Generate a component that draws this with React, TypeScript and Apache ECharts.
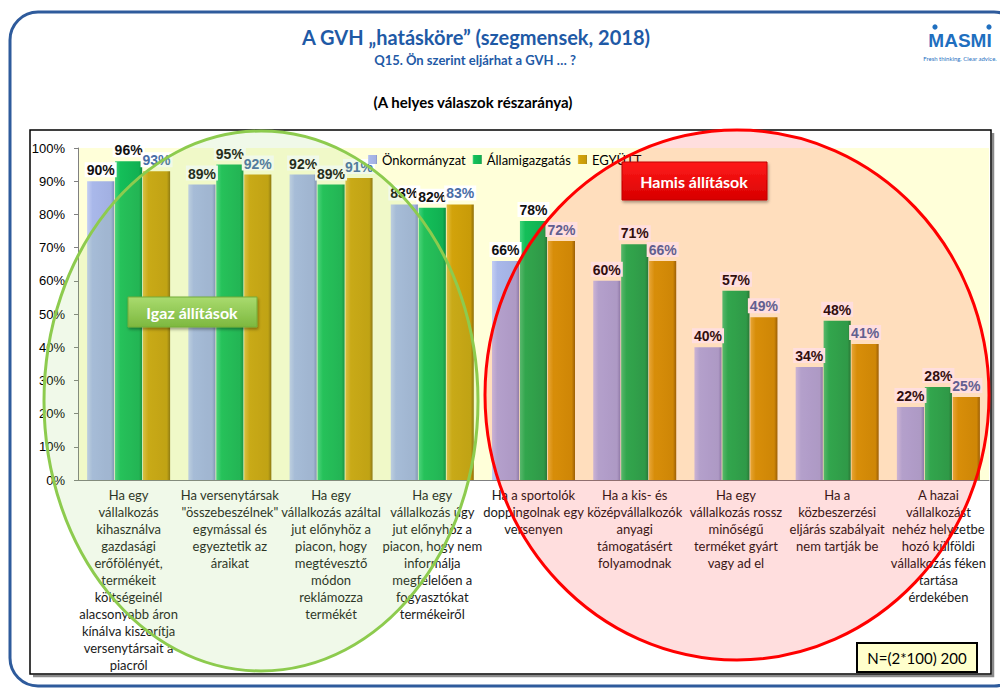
import React, { useEffect, useRef } from "react";
import * as echarts from "echarts";

const categories = [
  "Ha egy\nvállalkozás\nkihasználva\ngazdasági\nerőfölényét,\ntermékeit\nköltségeinél\nalacsonyabb áron\nkínálva kiszorítja\nversenytársait a\npiacról",
  "Ha versenytársak\n\"összebeszélnek\"\negymással és\negyeztetik az\náraikat",
  "Ha egy\nvállalkozás azáltal\njut előnyhöz a\npiacon, hogy\nmegtévesztő\nmódon\nreklámozza\ntermékét",
  "Ha egy\nvállalkozás úgy\njut előnyhöz a\npiacon, hogy nem\ninformálja\nmegfelelően a\nfogyasztókat\ntermékeiről",
  "Ha a sportolók\ndoppingolnak egy\nversenyen",
  "Ha a kis- és\nközépvállalkozók\nanyagi\ntámogatásért\nfolyamodnak",
  "Ha egy\nvállalkozás rossz\nminőségű\nterméket gyárt\nvagy ad el",
  "Ha a\nközbeszerzési\neljárás szabályait\nnem tartják be",
  "A hazai\nvállalkozást\nnehéz helyzetbe\nhozó külföldi\nvállalkozás féken\ntartása\nérdekében",
];

const seriesNames = ["Önkormányzat", "Államigazgatás", "EGYÜTT"];
const onkormanyzat = [90, 89, 92, 83, 66, 60, 40, 34, 22];
const allamigazgatas = [96, 95, 89, 82, 78, 71, 57, 48, 28];
const egyutt = [93, 92, 91, 83, 72, 66, 49, 41, 25];

const yMin = 0;
const yMax = 100;
const yInterval = 10;

const titleText = "A GVH „hatásköre” (szegmensek, 2018)";
const subtitleText = "Q15. Ön szerint eljárhat a GVH … ?";
const noteText = "(A helyes válaszok részaránya)";
const trueLabel = "Igaz állítások";
const falseLabel = "Hamis állítások";
const sampleText = "N=(2*100) 200";

const CAL = "Lato, 'Open Sans', sans-serif";
const ARIAL = "'Liberation Sans', Arial, sans-serif";

function barGrad(c0: string, c1: string, c2: string, c3: string) {
  return new echarts.graphic.LinearGradient(1, 0, 0, 0, [
    { offset: 0, color: c3 },
    { offset: 0.12, color: c2 },
    { offset: 0.8, color: c1 },
    { offset: 1, color: c0 },
  ]);
}

export default function App() {
  const ref = useRef<HTMLDivElement>(null);

  useEffect(() => {
    if (!ref.current) return;
    const chart = echarts.init(ref.current, null, { renderer: "svg" });

    const labelBase = {
      show: true,
      position: "top" as const,
      distance: 4,
      formatter: "{c}%",
      fontFamily: ARIAL,
      fontSize: 14,
      fontWeight: "bold" as const,
      backgroundColor: "#ffffff",
      padding: [1, 2, 0, 2],
    };

    const colors = [
      barGrad("#C4CEF3", "#A9B8EA", "#A2B0E2", "#7F8CC0"),
      barGrad("#40D37C", "#14BF59", "#11B052", "#0A8A3E"),
      barGrad("#E4BD3E", "#D2A30B", "#C89B08", "#8E6D05"),
    ];

    const option: any = {
      animation: false,
      grid: {
        left: 78,
        right: 11,
        top: 148,
        bottom: 208,
        show: true,
        backgroundColor: "#FFFFD9",
        borderWidth: 0,
      },
      legend: {
        left: 363,
        top: 148,
        itemWidth: 9,
        itemHeight: 9,
        itemGap: 7,
        icon: "rect",
        textStyle: { fontFamily: CAL, fontSize: 13, color: "#000" },
        data: seriesNames,
      },
      xAxis: {
        type: "category",
        data: categories,
        axisLine: { show: true, lineStyle: { color: "#808080" } },
        axisTick: { show: false },
        axisLabel: {
          interval: 0,
          margin: 6,
          fontFamily: CAL,
          fontSize: 13,
          lineHeight: 17,
          color: "#1a1a1a",
          align: "center",
        },
      },
      yAxis: {
        type: "value",
        min: yMin,
        max: yMax,
        interval: yInterval,
        axisLine: { show: true, lineStyle: { color: "#808080" } },
        axisTick: { show: true, length: 4, lineStyle: { color: "#808080" } },
        splitLine: { show: false },
        axisLabel: {
          formatter: "{value}%",
          fontFamily: ARIAL,
          fontSize: 13,
          color: "#000",
          margin: 13,
        },
      },
      series: [
        {
          name: seriesNames[0],
          type: "bar",
          data: onkormanyzat,
          barGap: "3%",
          barCategoryGap: "18%",
          itemStyle: { color: colors[0] },
          label: { ...labelBase, color: "#111" },
        },
        {
          name: seriesNames[1],
          type: "bar",
          data: allamigazgatas,
          itemStyle: { color: colors[1] },
          label: { ...labelBase, color: "#111" },
        },
        {
          name: seriesNames[2],
          type: "bar",
          data: egyutt,
          itemStyle: { color: colors[2] },
          label: { ...labelBase, color: "#4A6EA6" },
        },
      ],
      graphic: [
        {
          type: "rect",
          z: 50,
          shape: { x: 10, y: 12, width: 1012, height: 674, r: 28 },
          style: { fill: "none", stroke: "#2E5B9C", lineWidth: 3 },
          silent: true,
        },
        {
          type: "polyline",
          z: 50,
          shape: { points: [[993, 133], [993, 676], [33, 676]] },
          style: { fill: "none", stroke: "#8a8a8a", lineWidth: 2.5 },
          silent: true,
        },
        {
          type: "rect",
          z: 51,
          shape: { x: 30, y: 130, width: 961, height: 544 },
          style: { fill: "none", stroke: "#000", lineWidth: 1.5 },
          silent: true,
        },
        {
          type: "text",
          z: 60,
          x: 476,
          y: 37,
          style: {
            text: titleText,
            fontFamily: CAL,
            fontSize: 20,
            fontWeight: "bold",
            fill: "#1F5AA6",
            align: "center",
            verticalAlign: "middle",
            textAlign: "center",
            textVerticalAlign: "middle",
          },
        },
        {
          type: "text",
          z: 60,
          x: 475,
          y: 60,
          style: {
            text: subtitleText,
            fontFamily: CAL,
            fontSize: 13,
            fontWeight: "bold",
            fill: "#1F5AA6",
            align: "center",
            verticalAlign: "middle",
            textAlign: "center",
            textVerticalAlign: "middle",
          },
        },
        {
          type: "text",
          z: 60,
          x: 473,
          y: 102,
          style: {
            text: noteText,
            fontFamily: CAL,
            fontSize: 15,
            fontWeight: "bold",
            fill: "#000",
            align: "center",
            verticalAlign: "middle",
            textAlign: "center",
            textVerticalAlign: "middle",
          },
        },
        // logo
        {
          type: "text",
          z: 60,
          x: 960,
          y: 40,
          style: {
            text: "MASMI",
            fontFamily: ARIAL,
            fontSize: 19,
            fontWeight: "bold",
            fill: "#1F6FBF",
            align: "center",
            verticalAlign: "middle",
            textAlign: "center",
            textVerticalAlign: "middle",
          },
        },
        { type: "circle", z: 60, shape: { cx: 935, cy: 27, r: 2.6 }, style: { fill: "#1F6FBF" } },
        { type: "circle", z: 60, shape: { cx: 989, cy: 27, r: 2.6 }, style: { fill: "#1F6FBF" } },
        {
          type: "text",
          z: 60,
          x: 960,
          y: 58,
          style: {
            text: "Fresh thinking. Clear advice.",
            fontFamily: CAL,
            fontSize: 6,
            fill: "#1F6FBF",
            align: "center",
            verticalAlign: "middle",
            textAlign: "center",
            textVerticalAlign: "middle",
          },
        },
        // ellipses
        {
          type: "ellipse",
          z: 100,
          shape: { cx: 261, cy: 401, rx: 217, ry: 270 },
          style: { fill: "rgba(150,210,100,0.14)", stroke: "#8DCB4E", lineWidth: 3 },
          silent: true,
        },
        {
          type: "ellipse",
          z: 100,
          shape: { cx: 737, cy: 395, rx: 252, ry: 265 },
          style: { fill: "rgba(255,0,0,0.13)", stroke: "#FF0000", lineWidth: 3 },
          silent: true,
        },
        // true box
        {
          type: "rect",
          z: 110,
          shape: { x: 128, y: 297, width: 129, height: 30 },
          style: {
            fill: {
              type: "linear",
              x: 0,
              y: 0,
              x2: 0,
              y2: 1,
              colorStops: [
                { offset: 0, color: "#A9DB6E" },
                { offset: 1, color: "#7DB83F" },
              ],
            },
            stroke: "#74AC38",
            lineWidth: 1,
            shadowBlur: 3,
            shadowOffsetX: 1,
            shadowOffsetY: 2,
            shadowColor: "rgba(0,0,0,0.35)",
          },
        },
        {
          type: "text",
          z: 111,
          x: 192,
          y: 312,
          style: {
            text: trueLabel,
            fontFamily: CAL,
            fontSize: 16,
            fontWeight: "bold",
            fill: "#fff",
            align: "center",
            verticalAlign: "middle",
            textAlign: "center",
            textVerticalAlign: "middle",
          },
        },
        // false box
        {
          type: "rect",
          z: 110,
          shape: { x: 622, y: 162, width: 145, height: 38 },
          style: {
            fill: {
              type: "linear",
              x: 0,
              y: 0,
              x2: 0,
              y2: 1,
              colorStops: [
                { offset: 0, color: "#FF1A1A" },
                { offset: 1, color: "#D80000" },
              ],
            },
            stroke: "#C00000",
            lineWidth: 1,
            shadowBlur: 3,
            shadowOffsetX: 1,
            shadowOffsetY: 2,
            shadowColor: "rgba(0,0,0,0.35)",
          },
        },
        {
          type: "text",
          z: 111,
          x: 694,
          y: 181,
          style: {
            text: falseLabel,
            fontFamily: CAL,
            fontSize: 16,
            fontWeight: "bold",
            fill: "#fff",
            align: "center",
            verticalAlign: "middle",
            textAlign: "center",
            textVerticalAlign: "middle",
          },
        },
        // N box
        {
          type: "rect",
          z: 110,
          shape: { x: 857, y: 643, width: 120, height: 29 },
          style: { fill: "#FFFFCC", stroke: "#000", lineWidth: 2 },
        },
        {
          type: "text",
          z: 111,
          x: 917,
          y: 658,
          style: {
            text: sampleText,
            fontFamily: CAL,
            fontSize: 15,
            fill: "#000",
            align: "center",
            verticalAlign: "middle",
            textAlign: "center",
            textVerticalAlign: "middle",
          },
        },
      ],
    };

    chart.setOption(option);
    return () => chart.dispose();
  }, []);

  return (
    <div
      ref={ref}
      style={{ position: "fixed", left: 0, top: 0, width: 1000, height: 688, background: "#fff" }}
    />
  );
}
